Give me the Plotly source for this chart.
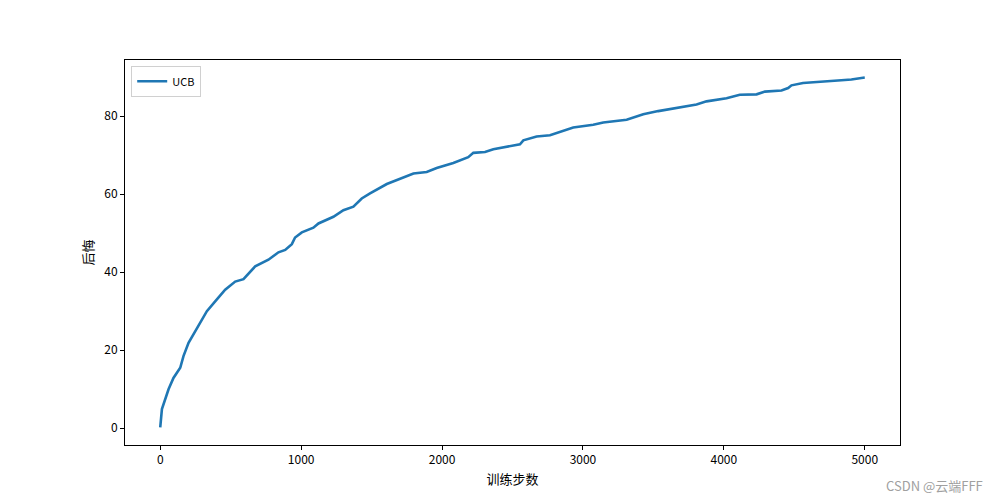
import plotly.graph_objects as go

# UCB 累积后悔
steps = [0, 12, 59, 94, 142, 165, 201, 260, 331, 390, 461, 532, 591, 674, 768,
         839, 887, 934, 957, 1005, 1087, 1123, 1229, 1300, 1371, 1430, 1489, 1608,
         1702, 1797, 1891, 1962, 2080, 2186, 2222, 2305, 2364, 2482, 2553, 2577,
         2671, 2766, 2837, 2931, 3073, 3144, 3310, 3428, 3534, 3665, 3806, 3877,
         4019, 4113, 4232, 4291, 4409, 4456, 4480, 4562, 4763, 4834, 4905, 5000]
regret = [0.2, 4.9, 10, 12.9, 15.5, 18.5, 21.9, 25.7, 30, 32.5, 35.5, 37.6, 38.2,
          41.5, 43.2, 45.1, 45.7, 47.2, 48.9, 50.2, 51.4, 52.5, 54.2, 55.9, 56.8,
          58.9, 60.2, 62.6, 64.0, 65.3, 65.7, 66.7, 68, 69.5, 70.6, 70.8, 71.5,
          72.3, 72.8, 73.8, 74.8, 75.1, 75.9, 77.1, 77.8, 78.4, 79.1, 80.5, 81.3,
          82.1, 83, 83.8, 84.6, 85.5, 85.6, 86.3, 86.6, 87.2, 87.9, 88.5, 88.9,
          89.2, 89.4, 89.9]

x_ticks = [0, 1000, 2000, 3000, 4000, 5000]
y_ticks = [0, 20, 40, 60, 80]

FONT = "Noto Sans CJK SC"

fig = go.Figure()
fig.add_trace(go.Scatter(
    x=steps, y=regret, mode="lines", name="UCB",
    line=dict(color="#1f77b4", width=2.6),
))

axis_style = dict(
    showline=True, linecolor="black", linewidth=1, mirror=True,
    ticks="outside", ticklen=4, tickcolor="black",
    showgrid=False, zeroline=False,
    tickfont=dict(family=FONT, size=12, color="black"),
)

# 页面 body 有约 8px 的边距，这里把边距往回收一点
fig.update_layout(
    width=1000, height=500,
    paper_bgcolor="white", plot_bgcolor="white",
    margin=dict(l=117, r=108, t=52, b=63),
    font=dict(family=FONT, size=12, color="black"),
    showlegend=True,
    legend=dict(
        x=0.008, y=0.985, xanchor="left", yanchor="top",
        bordercolor="#d0d0d0", borderwidth=1, bgcolor="white",
        font=dict(family=FONT, size=11),
        tracegroupgap=0,
    ),
    xaxis=dict(axis_style, range=[-250, 5250], tickvals=x_ticks,
               title=dict(text="训练步数", font=dict(family=FONT, size=13), standoff=8)),
    yaxis=dict(axis_style, range=[-4.3, 94.4], tickvals=y_ticks,
               title=dict(text="后悔", font=dict(family=FONT, size=13), standoff=7)),
)

fig.add_annotation(
    text="CSDN @云端FFF", xref="paper", yref="paper",
    x=1.11, y=-0.104, xanchor="right", yanchor="middle",
    showarrow=False, font=dict(family=FONT, size=13, color="#a0a0a0"),
)

fig.write_html("out.html")
